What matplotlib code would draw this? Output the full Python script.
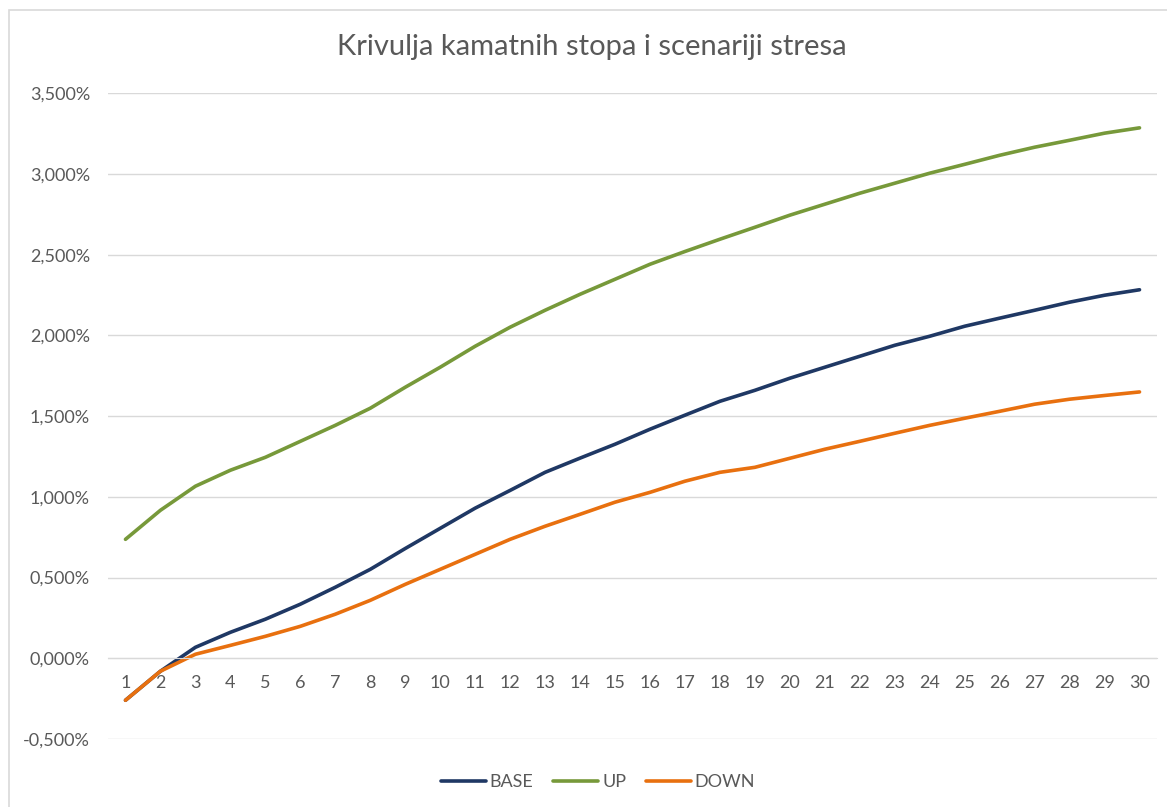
import matplotlib
matplotlib.use('Agg')
import matplotlib.pyplot as plt
from matplotlib.patches import Rectangle
from matplotlib.ticker import FuncFormatter

plt.rcParams['font.family'] = ['Lato', 'DejaVu Sans']

# rocnosti (godine)
godine = list(range(1, 31))

# krivulje u postocima
base = [-0.26, -0.08, 0.068, 0.161, 0.242, 0.335, 0.44, 0.551, 0.68, 0.805,
        0.93, 1.04, 1.152, 1.24, 1.326, 1.419, 1.506, 1.592, 1.66, 1.735,
        1.803, 1.871, 1.939, 1.995, 2.057, 2.107, 2.156, 2.206, 2.249, 2.283]
up = [0.737, 0.917, 1.066, 1.165, 1.245, 1.344, 1.443, 1.549, 1.679, 1.803,
      1.933, 2.051, 2.156, 2.255, 2.348, 2.441, 2.52, 2.596, 2.67, 2.745,
      2.813, 2.881, 2.943, 3.005, 3.06, 3.116, 3.166, 3.209, 3.253, 3.286]
down = [-0.26, -0.08, 0.025, 0.08, 0.136, 0.198, 0.273, 0.359, 0.458, 0.551,
        0.644, 0.737, 0.818, 0.892, 0.967, 1.028, 1.097, 1.152, 1.183, 1.239,
        1.295, 1.344, 1.394, 1.443, 1.487, 1.53, 1.574, 1.605, 1.628, 1.65]

serije = [('BASE', base, '#1F3864'), ('UP', up, '#77993A'), ('DOWN', down, '#E8700F')]

siva = '#595959'

fig = plt.figure(figsize=(11.67, 8.07), dpi=100)
ax = fig.add_axes([108/1167, 1 - 739/807, 1049/1167, (739 - 93.3)/807])

for ime, vrijednosti, boja in serije:
    ax.plot(godine, vrijednosti, color=boja, lw=2.6, label=ime,
            solid_capstyle='round', solid_joinstyle='round')

ax.set_xlim(0.5, 30.5)
ax.set_ylim(-0.5, 3.5)
ax.set_yticks([i * 0.5 for i in range(-1, 8)])
ax.yaxis.set_major_formatter(FuncFormatter(lambda v, p: ('%.3f%%' % v).replace('.', ',')))
ax.set_xticks(godine)
ax.set_xticklabels([str(g) for g in godine])

ax.grid(axis='y', color='#D9D9D9', lw=1)
ax.set_axisbelow(True)
for s in ['top', 'right', 'left']:
    ax.spines[s].set_visible(False)
ax.spines['bottom'].set_position(('data', 0))
ax.spines['bottom'].set_color('#D9D9D9')
ax.tick_params(axis='both', length=0, colors=siva, labelsize=13)
ax.tick_params(axis='y', pad=13)
ax.tick_params(axis='x', pad=12)

fig.text(592/1167, 1 - 47/807, 'Krivulja kamatnih stopa i scenariji stresa',
         ha='center', va='center', fontsize=21, color=siva)

leg = fig.legend(loc='center', bbox_to_anchor=(598/1167, 1 - 782/807), ncol=3,
                 frameon=False, fontsize=13, handlelength=2.5, handletextpad=0.2,
                 columnspacing=1.1)
for t in leg.get_texts():
    t.set_color(siva)

# okvir grafikona
fig.patches.append(Rectangle((9/1167, -0.1), 1.2, 1 - 10/807 + 0.1, transform=fig.transFigure,
                             fill=False, edgecolor='#D9D9D9', lw=1.2))

fig.savefig('out.png', dpi=100)
